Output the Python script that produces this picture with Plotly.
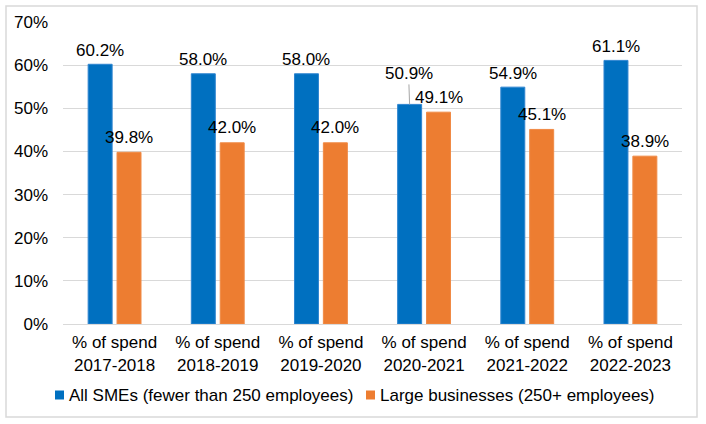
import plotly.graph_objects as go

categories = ["% of spend<br>2017-2018", "% of spend<br>2018-2019", "% of spend<br>2019-2020",
              "% of spend<br>2020-2021", "% of spend<br>2021-2022", "% of spend<br>2022-2023"]
sme_values = [60.2, 58.0, 58.0, 50.9, 54.9, 61.1]
large_values = [39.8, 42.0, 42.0, 49.1, 45.1, 38.9]
series_names = ["All SMEs (fewer than 250 employees)", "Large businesses (250+ employees)"]
y_ticks = [0, 10, 20, 30, 40, 50, 60, 70]

BLUE = "#0070C0"
ORANGE = "#ED7D31"
FONT = "Liberation Sans, Arial, sans-serif"
FS = 17

# plot area in pixels: x 63..682, y 22..324
L, R, T, B = 63, 682, 22, 324
W, H = R - L, B - T
def px(x):
    return (x - L) / W
def py(y):
    return (B - y) / H

fig = go.Figure()
fig.add_trace(go.Bar(x=categories, y=sme_values, name=series_names[0],
                     marker=dict(color=BLUE, line=dict(color="#2F85D0", width=1))))
fig.add_trace(go.Bar(x=categories, y=large_values, name=series_names[1],
                     marker=dict(color=ORANGE, line=dict(color="#F08A45", width=1))))

annotations = []
for i, c in enumerate(categories):
    v = sme_values[i]
    if i == 3:
        annotations.append(dict(x=c, y=v, xshift=-14.5, text=f"{v:.1f}%", showarrow=True,
                                arrowhead=0, arrowwidth=1, arrowcolor="#A6A6A6",
                                ax=-1, ay=-31, font=dict(size=FS, color="#000000", family=FONT)))
    else:
        annotations.append(dict(x=c, y=v, xshift=-14.5, yshift=14, text=f"{v:.1f}%",
                                showarrow=False, yanchor="middle",
                                font=dict(size=FS, color="#000000", family=FONT)))
    v2 = large_values[i]
    annotations.append(dict(x=c, y=v2, xshift=14.5, yshift=15, text=f"{v2:.1f}%",
                            showarrow=False, yanchor="middle",
                            font=dict(size=FS, color="#000000", family=FONT)))

# manual legend
legend_items = [(series_names[0], BLUE, 55), (series_names[1], ORANGE, 366)]
shapes = [dict(type="rect", xref="paper", yref="paper",
               x0=px(6), x1=px(697), y0=py(417), y1=py(6),
               line=dict(color="#D9D9D9", width=1.5), fillcolor="rgba(0,0,0,0)", layer="below")]
for name, col, x0 in legend_items:
    shapes.append(dict(type="rect", xref="paper", yref="paper",
                       x0=px(x0), x1=px(x0 + 9), y0=py(399.5), y1=py(390.5),
                       line=dict(width=0), fillcolor=col))
    annotations.append(dict(xref="paper", yref="paper", x=px(x0 + 12), y=py(395),
                            xanchor="left", yanchor="middle", showarrow=False, text=name,
                            font=dict(size=FS, color="#000000", family=FONT)))

fig.update_layout(
    width=706, height=424,
    margin=dict(l=L, r=706 - R, t=T, b=424 - B, autoexpand=False),
    paper_bgcolor="white", plot_bgcolor="white",
    barmode="group", bargap=0.44, bargroupgap=0.17,
    font=dict(family=FONT, size=FS, color="#000000"),
    showlegend=False,
    annotations=annotations,
    shapes=shapes,
)
fig.update_yaxes(range=[0, 70], tickvals=y_ticks, ticktext=[f"{t}%" for t in y_ticks],
                 showgrid=True, gridcolor="#D9D9D9", gridwidth=1, zeroline=False,
                 automargin=False, ticklabelstandoff=14, tickfont=dict(size=FS, family=FONT))
fig.update_xaxes(showline=True, linecolor="#D9D9D9", linewidth=1, automargin=False,
                 ticklabelstandoff=3, tickfont=dict(size=FS, family=FONT))

fig.write_html("out.html", config={"displayModeBar": False},
               post_script="document.body.style.margin='0';document.body.style.overflow='hidden';")
